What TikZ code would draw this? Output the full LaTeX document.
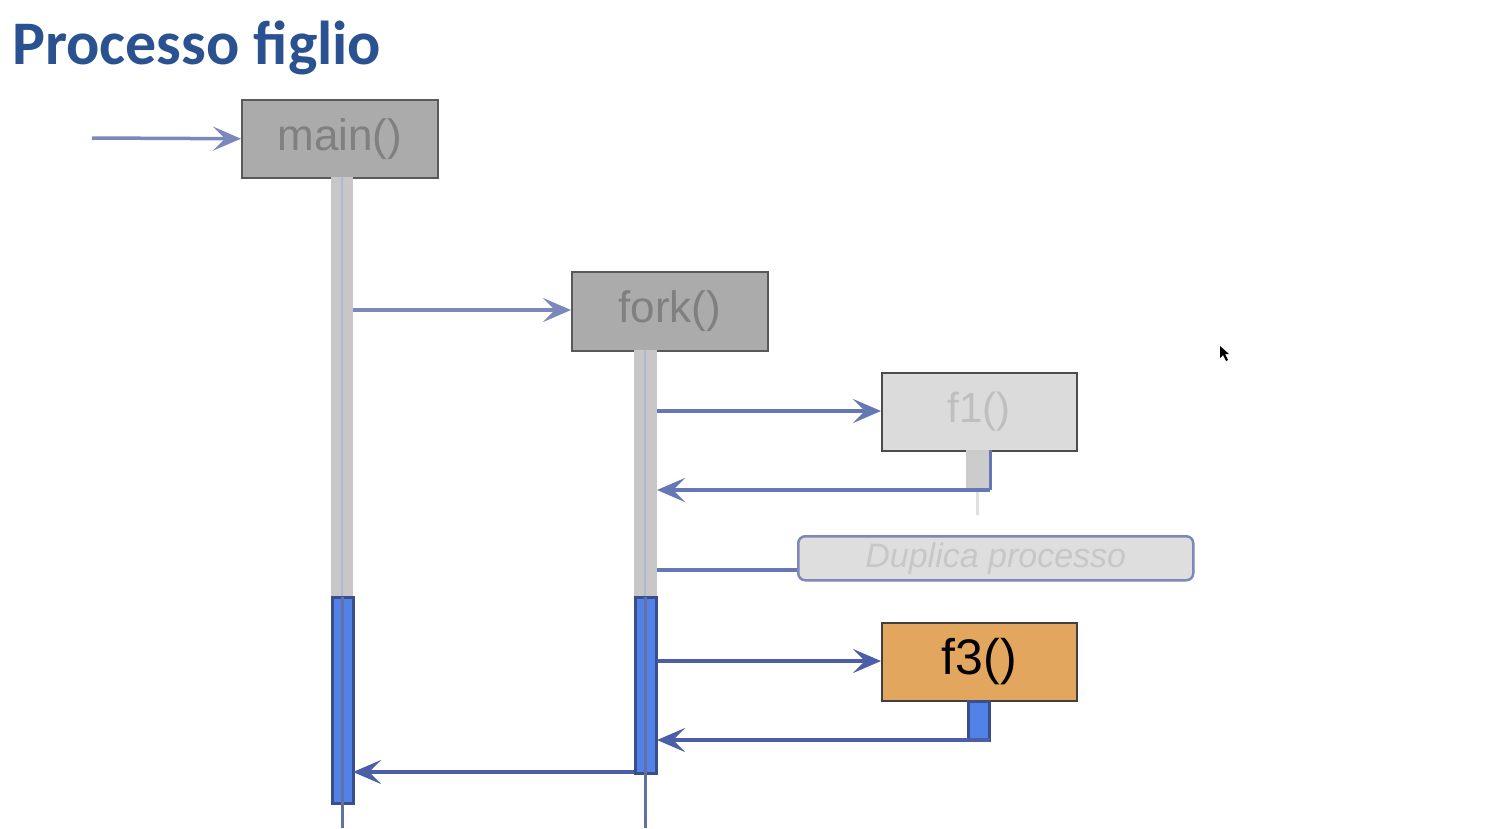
\documentclass[tikz,border=0pt]{standalone}
\usepackage{fontspec}
\setmainfont{Liberation Sans}
\newfontfamily\titlefont{Carlito}
\usetikzlibrary{arrows.meta}
\definecolor{titleblue}{HTML}{2B5290}
\definecolor{arrowblue}{HTML}{4A5FA8}
\definecolor{fadeblue}{HTML}{7C88BC}
\definecolor{actblue}{HTML}{5281E8}
\definecolor{actborder}{HTML}{3A4E8C}
\definecolor{orangefill}{HTML}{E3A65F}
\tikzset{
  x=1pt, y=-1pt,
  tip/.style={-{Stealth[length=28pt,width=24pt,inset=12pt]}},
  msg/.style={draw=arrowblue, line width=3.5pt, tip},
  fadedmsg/.style={draw=fadeblue, line width=3.5pt, tip},
  darkbox/.style={draw=black!65, line width=1.5pt, fill=black!33, text=black!50, font=\fontsize{44}{44}\selectfont, inner sep=0pt, anchor=north west},
  lightbox/.style={draw=black!70, line width=1.5pt, fill=black!14, text=black!25, font=\fontsize{42}{42}\selectfont, inner sep=0pt, anchor=north west},
  graybar/.style={fill=black!22, draw=none},
  actbar/.style={fill=actblue, draw=actborder, line width=3pt},
}
\begin{document}
\begin{tikzpicture}
\useasboundingbox (0,0) rectangle (1496,828);
\fill[white] (0,0) rectangle (1496,828);
% title
\node[anchor=base west, inner sep=0pt, text=titleblue, font=\titlefont\bfseries\fontsize{62}{62}\selectfont] (title) at (12,64) {Processo figlio};
% start coordinate
\coordinate (start) at (92,138);
% main box
\node[darkbox, minimum width=196pt, minimum height=78pt] (main) at (241,99) {main()};
% main lifeline gray
\fill[graybar] (331,177) rectangle (353,597);
\draw[fadeblue!60, line width=2pt] (342,177) -- (342,597);
% main activation
\draw[actbar] (332,597) rectangle (353,803);
\draw[actborder!80, line width=3pt] (342,597) -- (342,828);
% fork box
\node[darkbox, minimum width=196pt, minimum height=79pt] (fork) at (571,271) {fork()};
\fill[graybar] (634,350) rectangle (657,597);
\draw[fadeblue!60, line width=2pt] (645,350) -- (645,597);
\draw[actbar] (635,597) rectangle (656,773);
\draw[actborder!80, line width=3pt] (645,597) -- (645,828);
% f1 box
\node[lightbox, minimum width=195pt, minimum height=78pt] (f1) at (881,372) {f1()};
\fill[black!20] (966,450) rectangle (990,490);
\draw[black!12, line width=3pt] (977,490) -- (977,515);
% duplica processo
\node[draw=fadeblue, line width=2.5pt, rounded corners=7pt, fill=black!13, text=black!22, minimum width=395pt, minimum height=44pt, inner sep=0pt, anchor=north west, font=\itshape\fontsize{34}{34}\selectfont] (dup) at (797,535) {Duplica processo};
% f3 box
\node[draw=black!75, line width=1.5pt, fill=orangefill, text=black, minimum width=195pt, minimum height=78pt, inner sep=0pt, anchor=north west, font=\fontsize{50}{50}\selectfont] (f3) at (881,622) {f3()};
\draw[actbar] (968,701) rectangle (989,740);
% coordinates on lifelines
\coordinate (mainOut) at (353,310);
\coordinate (forkF1) at (657,411);
\coordinate (f1Ret) at (990,490);
\coordinate (forkF1r) at (657,490);
\coordinate (forkDup) at (657,570);
\coordinate (forkF3) at (657,661);
\coordinate (f3Ret) at (990,740);
\coordinate (forkF3r) at (657,740);
\coordinate (forkEnd) at (634,772);
\coordinate (mainRet) at (353,772);
% connectors
\draw[fadedmsg] (start) -- (main.west);
\draw[fadedmsg] (mainOut) -- (fork.west |- mainOut);
\draw[msg, draw=arrowblue!85] (forkF1) -- (f1.west |- forkF1);
\draw[arrowblue!85, line width=3pt] (f1Ret) -- ++(0,-40);
\draw[msg, draw=arrowblue!85] (f1Ret) -- (forkF1r);
\draw[arrowblue!85, line width=3.5pt] (forkDup) -- (dup.west |- forkDup);
\draw[msg] (forkF3) -- (f3.west |- forkF3);
\draw[msg] (f3Ret) -- (forkF3r);
\draw[msg] (forkEnd) -- (mainRet);
% cursor
\fill[black] (1220,346) -- (1220,358) -- (1223,355) -- (1226,361) -- (1228,360) -- (1225,354) -- (1229,354) -- cycle;
\end{tikzpicture}
\end{document}
